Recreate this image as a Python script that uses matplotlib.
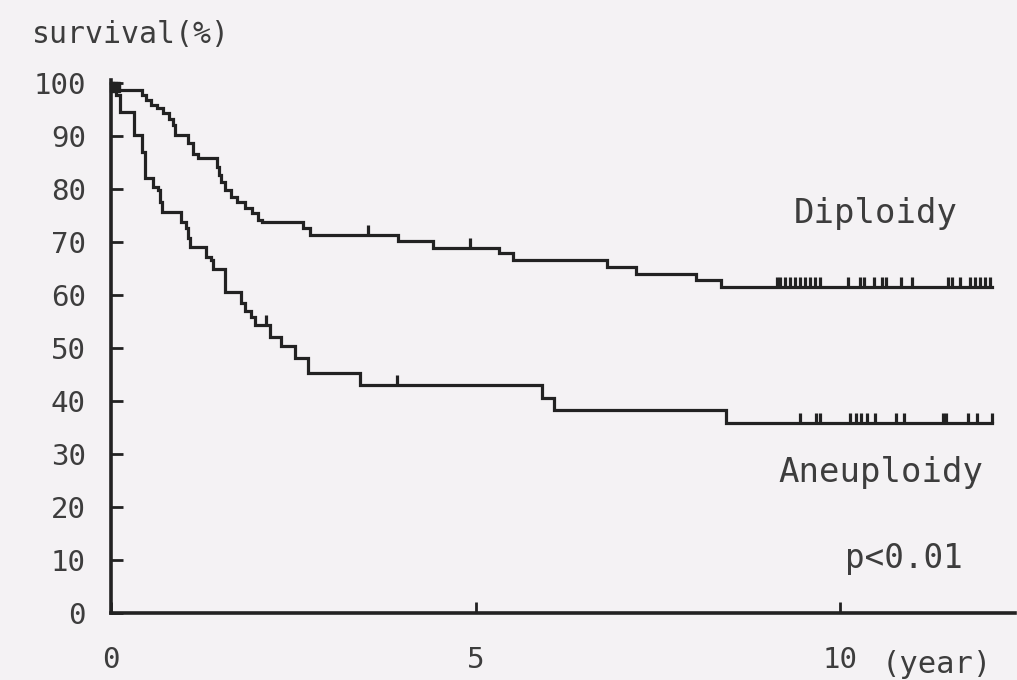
import numpy as np
import matplotlib
matplotlib.use("Agg")
import matplotlib.pyplot as plt
from matplotlib.markers import TICKUP

# ---------------- data ----------------
# Diploidy: times (years) at which the survival level changes, and the level after
diploidy_t = [0.00, 0.03, 0.42, 0.48, 0.55, 0.63, 0.71, 0.79, 0.85, 0.88, 1.06, 1.12,
              1.20, 1.45, 1.48, 1.51, 1.57, 1.64, 1.73, 1.84, 1.94, 2.02, 2.07, 2.64,
              2.73, 3.94, 4.42, 5.32, 5.51, 6.80, 7.20, 8.02, 8.37]
diploidy_s = [100.0, 98.7, 97.7, 96.8, 95.8, 95.2, 94.3, 93.3, 92.1, 90.2, 88.6, 86.7,
              85.8, 84.2, 82.6, 81.4, 79.8, 78.5, 77.6, 76.4, 75.4, 74.2, 73.8, 72.6,
              71.3, 70.1, 68.8, 67.9, 66.6, 65.3, 64.0, 62.8, 61.6]
diploidy_censor = [3.53, 4.92, 9.14, 9.18, 9.25, 9.31, 9.38, 9.45, 9.52, 9.59, 9.66,
                   9.73, 10.11, 10.27, 10.33, 10.47, 10.58, 10.63, 10.84, 10.99, 11.48,
                   11.54, 11.65, 11.78, 11.85, 11.92, 11.99, 12.06]

# Aneuploidy
aneuploidy_t = [0.00, 0.07, 0.12, 0.32, 0.43, 0.46, 0.57, 0.64, 0.67, 0.70, 0.96, 1.03,
                1.06, 1.08, 1.30, 1.37, 1.40, 1.57, 1.78, 1.84, 1.92, 1.97, 2.18, 2.33,
                2.53, 2.70, 3.42, 5.91, 6.07, 8.44]
aneuploidy_s = [100.0, 97.7, 94.6, 90.2, 87.0, 82.0, 80.4, 79.8, 77.6, 75.7, 73.8, 72.6,
                70.7, 69.1, 67.2, 66.6, 65.0, 60.6, 58.4, 56.9, 55.9, 54.3, 52.1, 50.3,
                48.1, 45.2, 43.0, 40.6, 38.3, 35.8]
aneuploidy_censor = [2.12, 3.92, 9.45, 9.67, 9.73, 10.14, 10.22, 10.29, 10.37, 10.48,
                     10.77, 10.88, 11.41, 11.45, 11.76, 11.88, 12.08]

follow_up_end = 12.08          # end of both curves (years)
start_cluster_t = [0.06]        # dense cluster of marks at the origin
start_cluster_s = [99.2]

y_ticks = [0, 10, 20, 30, 40, 50, 60, 70, 80, 90, 100]
x_ticks = [0, 5, 10]
x_tick_labels = ["0", "5", "10"]

# ---------------- style ----------------
BG = "#f4f2f4"
INK = "#222222"
TXT = "#3d3d3d"
plt.rcParams["font.family"] = ["DejaVu Sans Mono", "DejaVu Sans"]

W, H = 1017, 680
fig = plt.figure(figsize=(W / 100, H / 100), dpi=100, facecolor=BG)
ax = fig.add_axes([111 / W, 67 / H, 904 / W, 533 / H])
ax.set_facecolor(BG)
ax.set_xlim(0, 12.40)
ax.set_ylim(0, 100.57)

for side in ("top", "right"):
    ax.spines[side].set_visible(False)
for side in ("left", "bottom"):
    ax.spines[side].set_linewidth(2.6)
    ax.spines[side].set_color(INK)


def km_curve(ts, ss, t_end):
    t = np.append(np.asarray(ts, float), t_end)
    s = np.append(np.asarray(ss, float), ss[-1])
    return t, s


def level_at(ts, ss, tc):
    idx = np.searchsorted(np.asarray(ts), np.asarray(tc), side="right") - 1
    return np.asarray(ss)[idx]


for ts, ss, cens in ((diploidy_t, diploidy_s, diploidy_censor),
                     (aneuploidy_t, aneuploidy_s, aneuploidy_censor)):
    t, s = km_curve(ts, ss, follow_up_end)
    ax.step(t, s, where="post", color=INK, lw=2.3, clip_on=False,
            solid_joinstyle="miter")
    ax.plot(cens, level_at(ts, ss, cens), linestyle="none", marker=TICKUP,
            markersize=7, markeredgewidth=2.3, color=INK, clip_on=False)

ax.plot(start_cluster_t, start_cluster_s, linestyle="none", marker="s",
        markersize=7.5, color=INK, clip_on=False)

ax.set_yticks(y_ticks)
ax.set_xticks(x_ticks)
ax.set_xticklabels(x_tick_labels)
ax.tick_params(axis="both", direction="in", width=2.0, color=INK,
               labelcolor=TXT, labelsize=21)
ax.tick_params(axis="y", length=8.5, pad=18)
ax.tick_params(axis="x", length=8, pad=24)

# texts
fig.text(32 / W, 1 - 43 / H, "survival(%)", fontsize=21.5, color=TXT, va="baseline")
fig.text(882 / W, 1 - 673 / H, "(year)", fontsize=22, color=TXT, va="baseline")
ax.text(9.36, 73.6, "Diploidy", fontsize=24.5, color=TXT, va="baseline")
ax.text(9.15, 24.7, "Aneuploidy", fontsize=24.5, color=TXT, va="baseline")
ax.text(10.07, 8.5, "p<0.01", fontsize=23.5, color=TXT, va="baseline")

fig.savefig("out.png", dpi=100, facecolor=BG)
